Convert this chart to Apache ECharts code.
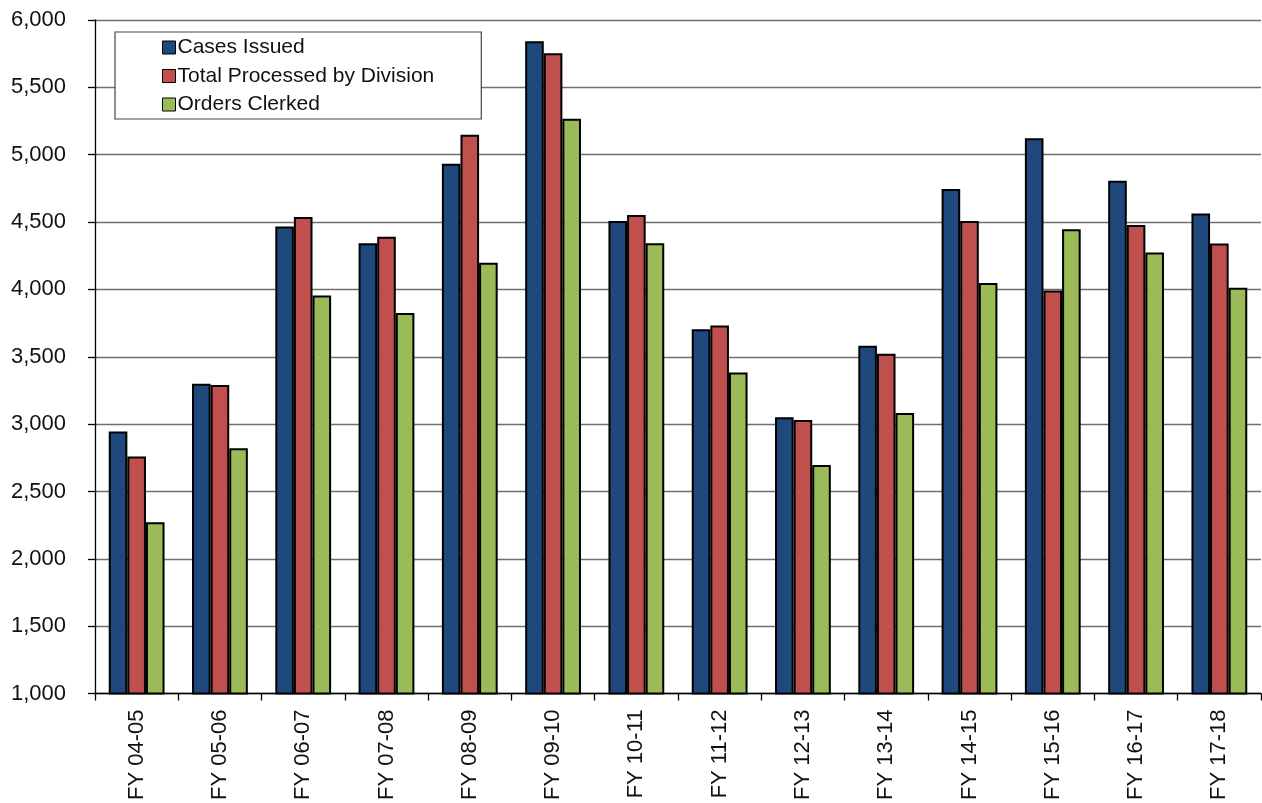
<!DOCTYPE html>
<html>
<head>
<meta charset="utf-8">
<title>Cases by Fiscal Year</title>
<script src="https://cdn.jsdelivr.net/npm/echarts@6/dist/echarts.min.js"></script>
<style>
  html, body { margin: 0; padding: 0; background: #ffffff; }
  #chart { width: 1262px; height: 803px; }
</style>
</head>
<body>
<div id="chart"></div>
<script>
// Fiscal years shown along the category axis
const categories = ['FY 04-05', 'FY 05-06', 'FY 06-07', 'FY 07-08', 'FY 08-09', 'FY 09-10', 'FY 10-11',
                    'FY 11-12', 'FY 12-13', 'FY 13-14', 'FY 14-15', 'FY 15-16', 'FY 16-17', 'FY 17-18'];

// Yearly counts per series
const casesIssued      = [2945, 3300, 4467, 4343, 4932, 5843, 4507, 3705, 3050, 3582, 4746, 5122, 4806, 4563];
const totalProcessed   = [2760, 3290, 4537, 4390, 5148, 5753, 4553, 3732, 3030, 3522, 4507, 3992, 4479, 4341];
const ordersClerked    = [2271, 2820, 3955, 3825, 4197, 5266, 4343, 3384, 2696, 3082, 4047, 4447, 4274, 4012];

const seriesNames = ['Cases Issued', 'Total Processed by Division', 'Orders Clerked'];
const seriesColors = ['#1f497d', '#c0504d', '#9bbb59'];

const chart = echarts.init(document.getElementById('chart'), null, { renderer: 'canvas' });

const fontFamily = '"Liberation Sans", Arial, sans-serif';

function barSeries(name, data, color) {
  return {
    name: name,
    type: 'bar',
    data: data,
    barGap: '0%',
    barCategoryGap: '33%',
    itemStyle: { color: color, borderColor: '#000000', borderWidth: 2 },
    emphasis: { disabled: true },
    animation: false
  };
}

chart.setOption({
  animation: false,
  backgroundColor: '#ffffff',
  grid: { left: 95, right: 1, top: 20, bottom: 109, containLabel: false },
  legend: {
    orient: 'vertical',
    left: 115,
    top: 32,
    align: 'left',
    padding: [5, 47, 4, 47],
    itemWidth: 13,
    itemHeight: 13,
    itemGap: 7.5,
    backgroundColor: '#ffffff',
    borderColor: '#444444',
    borderWidth: 1.2,
    borderRadius: 0,
    selectedMode: false,
    icon: 'rect',
    itemStyle: { borderColor: '#000000', borderWidth: 1 },
    textStyle: { fontFamily: fontFamily, fontSize: 21, color: '#111111', padding: [0, 0, 0, -3], lineHeight: 20 },
    data: seriesNames
  },
  xAxis: {
    type: 'category',
    data: categories,
    axisLine: { show: true, lineStyle: { color: '#000000', width: 1.3 } },
    axisTick: { show: true, alignWithLabel: false, length: 7, lineStyle: { color: '#000000', width: 1.3 } },
    axisLabel: {
      rotate: 90,
      interval: 0,
      margin: 16,
      fontFamily: fontFamily,
      fontSize: 22,
      color: '#111111'
    },
    splitLine: { show: false }
  },
  yAxis: {
    type: 'value',
    min: 1000,
    max: 6000,
    interval: 500,
    axisLine: { show: true, lineStyle: { color: '#000000', width: 1.3 } },
    axisTick: { show: true, length: 7, lineStyle: { color: '#000000', width: 1.3 } },
    axisLabel: {
      margin: 29,
      fontFamily: fontFamily,
      fontSize: 22,
      color: '#111111',
      formatter: function (v) { return v.toLocaleString('en-US'); }
    },
    splitLine: { show: true, lineStyle: { color: '#707070', width: 1.4 } }
  },
  series: [
    barSeries(seriesNames[0], casesIssued, seriesColors[0]),
    barSeries(seriesNames[1], totalProcessed, seriesColors[1]),
    barSeries(seriesNames[2], ordersClerked, seriesColors[2])
  ]
});
</script>
</body>
</html>
